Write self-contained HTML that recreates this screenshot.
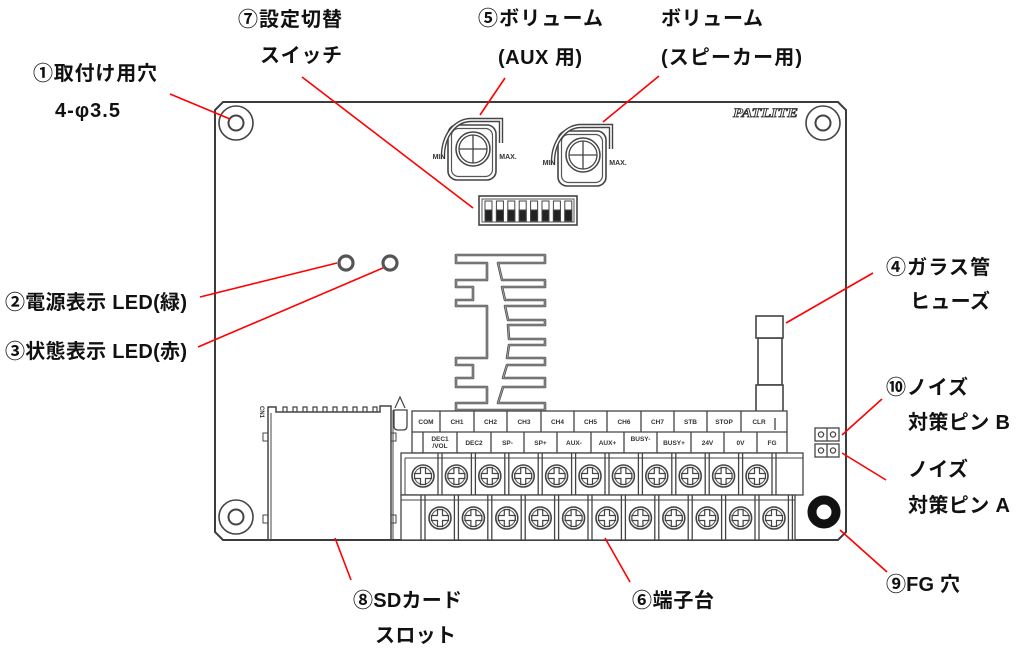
<!DOCTYPE html>
<html><head><meta charset="utf-8">
<style>
html,body{margin:0;padding:0;background:#fff;}
svg{display:block;}
.t{font-family:"Liberation Sans","Noto Sans CJK JP",sans-serif;font-weight:bold;font-size:20px;fill:#111;}
.s{font-family:"Liberation Sans",sans-serif;font-weight:bold;font-size:6.5px;fill:#333;text-anchor:middle;}
.k{font-family:"Liberation Sans",sans-serif;font-weight:bold;font-size:7px;fill:#333;text-anchor:middle;}
</style></head><body>
<svg width="1017" height="650" viewBox="0 0 1017 650" xmlns="http://www.w3.org/2000/svg">
<defs>
  <g id="sc">
    <circle r="11" fill="#fff" stroke="#444" stroke-width="1.6"/>
    <circle r="8.5" fill="none" stroke="#555" stroke-width="1"/>
    <path d="M-2.5,-8.5H2.5V-2.5H8.5V2.5H2.5V8.5H-2.5V2.5H-8.5V-2.5H-2.5Z" fill="none" stroke="#444" stroke-width="1.2"/>
  </g>
  <g id="knob">
    <rect x="-25" y="-24" width="48" height="55" rx="9" fill="#fff" stroke="#444" stroke-width="1.6"/>
    <rect x="-21.5" y="-20.5" width="41" height="48" rx="7" fill="none" stroke="#555" stroke-width="1.2"/>
    <path d="M-30,10 C-31,-14 -17,-29 -2,-29 L28,-29 L28,-6" fill="none" stroke="#444" stroke-width="4.4"/>
    <path d="M-30,10 C-31,-14 -17,-29 -2,-29 L28,-29 L28,-6" fill="none" stroke="#fff" stroke-width="1.6"/>
    <circle r="17" fill="none" stroke="#444" stroke-width="1.5"/>
    <circle r="14" fill="none" stroke="#444" stroke-width="1.3"/>
    <path d="M0,-14V14M-14,0H14" stroke="#444" stroke-width="1.3"/>
    <text x="-34" y="10" class="k">MIN</text>
    <text x="35" y="10" class="k">MAX.</text>
  </g>
</defs>

<!-- Board -->
<polygon points="223,102 838,102 846,110 846,532 838,540 223,540 215,532 215,110" fill="none" stroke="#3c3c3c" stroke-width="2"/>

<!-- Mounting holes -->
<g fill="none" stroke="#444">
  <circle cx="236" cy="123" r="17" stroke-width="1.6"/><circle cx="236" cy="123" r="7.5" stroke-width="2"/>
  <circle cx="823" cy="123" r="17" stroke-width="1.6"/><circle cx="823" cy="123" r="7.5" stroke-width="2"/>
  <circle cx="236" cy="517" r="17" stroke-width="1.6"/><circle cx="236" cy="517" r="7.5" stroke-width="2"/>
</g>
<!-- FG hole -->
<circle cx="824" cy="512" r="12" fill="none" stroke="#111" stroke-width="9"/>

<!-- PATLITE logo -->
<text x="733" y="117" font-family="Liberation Serif" font-style="italic" font-weight="bold" font-size="13" textLength="65" lengthAdjust="spacingAndGlyphs" fill="#fff" stroke="#333" stroke-width="0.8">PATLITE</text>

<!-- Knobs -->
<use href="#knob" transform="translate(473,149)"/>
<use href="#knob" transform="translate(583,155)"/>

<!-- DIP switch -->
<rect x="479" y="196" width="98" height="29" fill="none" stroke="#444" stroke-width="1.6"/>
<rect x="482" y="199" width="92" height="23" fill="none" stroke="#555" stroke-width="1"/>
<g stroke="#444" stroke-width="1">
  <rect x="485" y="201" width="7" height="20" fill="#fff"/><rect x="485" y="210" width="7" height="11" fill="#222"/>
  <rect x="496.4" y="201" width="7" height="20" fill="#fff"/><rect x="496.4" y="210" width="7" height="11" fill="#222"/>
  <rect x="507.8" y="201" width="7" height="20" fill="#fff"/><rect x="507.8" y="210" width="7" height="11" fill="#222"/>
  <rect x="519.2" y="201" width="7" height="20" fill="#fff"/><rect x="519.2" y="210" width="7" height="11" fill="#222"/>
  <rect x="530.6" y="201" width="7" height="20" fill="#fff"/><rect x="530.6" y="210" width="7" height="11" fill="#222"/>
  <rect x="542" y="201" width="7" height="20" fill="#fff"/><rect x="542" y="210" width="7" height="11" fill="#222"/>
  <rect x="553.4" y="201" width="7" height="20" fill="#fff"/><rect x="553.4" y="210" width="7" height="11" fill="#222"/>
  <rect x="564.8" y="201" width="7" height="20" fill="#fff"/><rect x="564.8" y="210" width="7" height="11" fill="#222"/>
</g>

<!-- LEDs -->
<circle cx="346" cy="263" r="7" fill="#fff" stroke="#555" stroke-width="3.2"/>
<circle cx="390" cy="263" r="7" fill="#fff" stroke="#555" stroke-width="3.2"/>

<!-- Heatsink -->
<path d="M456,255 H545 V263 H498 L502,280 H545 V287 H502 L505,300 H545 V306 H505 L508,320 H545 V325 H508 L509,339 H545 V345 H509 L507,358 H545 V365 H507 L503,378 H545 V387 H503 L498,403 H545 V410 H456 V403 H487 V387 H456 V378 H473 V365 H456 V358 H487 V306 H456 V300 H473 V287 H456 V280 H487 V263 H456 Z" fill="#fff" stroke="#555" stroke-width="2.6" stroke-linejoin="round"/>
<path d="M456,255 H545 V263 H498 L502,280 H545 V287 H502 L505,300 H545 V306 H505 L508,320 H545 V325 H508 L509,339 H545 V345 H509 L507,358 H545 V365 H507 L503,378 H545 V387 H503 L498,403 H545 V410 H456 V403 H487 V387 H456 V378 H473 V365 H456 V358 H487 V306 H456 V300 H473 V287 H456 V280 H487 V263 H456 Z" fill="none" stroke="#aaa" stroke-width="0.8" stroke-linejoin="round"/>

<!-- Fuse -->
<g fill="#fff" stroke="#444" stroke-width="1.6">
  <rect x="758" y="338" width="24" height="47"/>
  <rect x="756" y="316" width="27" height="22"/>
  <rect x="756" y="385" width="27" height="27"/>
</g>

<!-- Jumpers -->
<g fill="#fff" stroke="#444" stroke-width="1.3">
  <rect x="815" y="428" width="24" height="13"/><line x1="827" y1="428" x2="827" y2="441"/>
  <circle cx="821" cy="434.5" r="2.6"/><circle cx="833" cy="434.5" r="2.6"/>
  <rect x="815" y="444" width="24" height="13"/><line x1="827" y1="444" x2="827" y2="457"/>
  <circle cx="821" cy="450.5" r="2.6"/><circle cx="833" cy="450.5" r="2.6"/>
</g>

<!-- SD slot -->
<g fill="none" stroke="#444" stroke-width="1.5">
  <path d="M268,540 V407 H276 V412 H380 V406 H391 V540"/>
  <line x1="271" y1="413" x2="271" y2="540" stroke-width="1"/>
  <line x1="393" y1="410" x2="393" y2="540" stroke-width="1"/>
  <path d="M283,412V407H287V412 M293,412V407H297V412 M303,412V407H307V412 M313,412V407H317V412 M323,412V407H327V412 M333,412V407H337V412 M343,412V407H347V412 M353,412V407H357V412 M363,412V407H367V412 M373,412V407H377V412" stroke-width="1.2"/>
  <rect x="263" y="433" width="5" height="8" stroke-width="1"/>
  <rect x="263" y="515" width="5" height="8" stroke-width="1"/>
  <rect x="391" y="433" width="5" height="8" stroke-width="1"/>
  <rect x="391" y="515" width="5" height="8" stroke-width="1"/>
  <path d="M394,410 H407 V426 Q407,430 403,430 H398 Q394,430 394,426 Z" stroke-width="1.3"/>
  <path d="M395,408 L400,397 L405,408" stroke-width="1.2"/>
</g>
<text transform="translate(260,406) rotate(90)" font-family="Liberation Sans" font-weight="bold" font-size="6" fill="#333">CN1</text>

<!-- Label table -->
<g fill="none" stroke="#444" stroke-width="1.3">
  <rect x="412" y="411" width="375" height="42" fill="#fff"/>
  <line x1="412" y1="432" x2="787" y2="432"/>
  <path d="M440,411V432 M474,411V432 M507,411V432 M541,411V432 M574,411V432 M607,411V432 M641,411V432 M674,411V432 M707,411V432 M741,411V432 M775,418V430"/>
  <path d="M423,432V453 M457,432V453 M491,432V453 M524,432V453 M557,432V453 M591,432V453 M624,432V453 M657,432V453 M691,432V453 M724,432V453 M757,432V453"/>
</g>
<g class="s">
  <text x="426" y="424" class="s">COM</text>
  <text x="457" y="424" class="s">CH1</text>
  <text x="490.5" y="424" class="s">CH2</text>
  <text x="524" y="424" class="s">CH3</text>
  <text x="557.5" y="424" class="s">CH4</text>
  <text x="590.5" y="424" class="s">CH5</text>
  <text x="624" y="424" class="s">CH6</text>
  <text x="657.5" y="424" class="s">CH7</text>
  <text x="690.5" y="424" class="s">STB</text>
  <text x="724" y="424" class="s">STOP</text>
  <text x="759" y="424" class="s">CLR</text>
  <text x="440" y="441" class="s">DEC1</text>
  <text x="440" y="448" class="s">/VOL</text>
  <text x="474" y="445" class="s">DEC2</text>
  <text x="507.5" y="445" class="s">SP-</text>
  <text x="540.5" y="445" class="s">SP+</text>
  <text x="574" y="445" class="s">AUX-</text>
  <text x="607.5" y="445" class="s">AUX+</text>
  <text x="640.5" y="441" class="s">BUSY-</text>
  <text x="674" y="445" class="s">BUSY+</text>
  <text x="707.5" y="445" class="s">24V</text>
  <text x="740.5" y="445" class="s">0V</text>
  <text x="772" y="445" class="s">FG</text>
</g>

<!-- Upper terminal block -->
<g fill="none" stroke="#444" stroke-width="1.3">
  <rect x="401" y="453" width="402" height="42" fill="#fff"/>
  <line x1="405" y1="458" x2="803" y2="458" stroke-width="1"/>
  <line x1="405" y1="458" x2="405" y2="495" stroke-width="1"/>
  <path d="M438,453V497 M442,453V497 M471.4,453V497 M475.4,453V497 M504.8,453V497 M508.8,453V497 M538.2,453V497 M542.2,453V497 M571.6,453V497 M575.6,453V497 M605,453V497 M609,453V497 M638.4,453V497 M642.4,453V497 M671.8,453V497 M675.8,453V497 M705.2,453V497 M709.2,453V497 M738.6,453V497 M742.6,453V497 M772,453V497 M776,453V497"/>
</g>
<g>
  <use href="#sc" x="423" y="476"/><use href="#sc" x="456.4" y="476"/><use href="#sc" x="489.8" y="476"/>
  <use href="#sc" x="523.2" y="476"/><use href="#sc" x="556.6" y="476"/><use href="#sc" x="590" y="476"/>
  <use href="#sc" x="623.4" y="476"/><use href="#sc" x="656.8" y="476"/><use href="#sc" x="690.2" y="476"/>
  <use href="#sc" x="723.6" y="476"/><use href="#sc" x="757" y="476"/>
</g>

<!-- Lower terminal block -->
<g fill="none" stroke="#444" stroke-width="1.3">
  <rect x="401" y="495" width="394" height="45" fill="#fff"/>
  <line x1="401" y1="500" x2="795" y2="500" stroke-width="1"/>
  <path d="M421,495V540 M425,495V540 M454.4,495V540 M458.4,495V540 M487.8,495V540 M491.8,495V540 M521.2,495V540 M525.2,495V540 M554.6,495V540 M558.6,495V540 M588,495V540 M592,495V540 M621.4,495V540 M625.4,495V540 M654.8,495V540 M658.8,495V540 M688.2,495V540 M692.2,495V540 M721.6,495V540 M725.6,495V540 M755,495V540 M759,495V540 M788.4,495V540 M792.4,495V540"/>
</g>
<g>
  <use href="#sc" x="440" y="518"/><use href="#sc" x="473.4" y="518"/><use href="#sc" x="506.8" y="518"/>
  <use href="#sc" x="540.2" y="518"/><use href="#sc" x="573.6" y="518"/><use href="#sc" x="607" y="518"/>
  <use href="#sc" x="640.4" y="518"/><use href="#sc" x="673.8" y="518"/><use href="#sc" x="707.2" y="518"/>
  <use href="#sc" x="740.6" y="518"/><use href="#sc" x="774" y="518"/>
</g>

<!-- Red leader lines -->
<g stroke="#ff0000" stroke-width="1.6" fill="none">
  <line x1="170" y1="94" x2="230" y2="119"/>
  <line x1="302" y1="77" x2="473" y2="208"/>
  <line x1="505" y1="78" x2="480" y2="115"/>
  <line x1="659" y1="76" x2="603" y2="122"/>
  <line x1="200" y1="297" x2="337" y2="263"/>
  <line x1="198" y1="347" x2="383" y2="268"/>
  <line x1="873" y1="273" x2="786" y2="323"/>
  <line x1="882" y1="399" x2="842" y2="435"/>
  <line x1="842" y1="453" x2="886" y2="480"/>
  <line x1="840" y1="530" x2="887" y2="572"/>
  <line x1="335" y1="538" x2="351" y2="580"/>
  <line x1="605" y1="538" x2="630" y2="582"/>
</g>

<!-- Labels -->
<g class="t">
  <text x="33" y="80" textLength="124" lengthAdjust="spacing">①取付け用穴</text>
  <text x="55" y="117" textLength="65" lengthAdjust="spacing">4-φ3.5</text>
  <text x="238" y="26" textLength="104" lengthAdjust="spacing">⑦設定切替</text>
  <text x="260" y="62" textLength="82" lengthAdjust="spacing">スイッチ</text>
  <text x="478" y="25" textLength="125" lengthAdjust="spacing">⑤ボリューム</text>
  <text x="498" y="64" textLength="84" lengthAdjust="spacing">(AUX 用)</text>
  <text x="661" y="25" textLength="102" lengthAdjust="spacing">ボリューム</text>
  <text x="661" y="64" textLength="141" lengthAdjust="spacing">(スピーカー用)</text>
  <text x="5" y="309" textLength="182" lengthAdjust="spacing">②電源表示 LED(緑)</text>
  <text x="5" y="358" textLength="182" lengthAdjust="spacing">③状態表示 LED(赤)</text>
  <text x="886" y="274" textLength="104" lengthAdjust="spacing">④ガラス管</text>
  <text x="910" y="308" textLength="80" lengthAdjust="spacing">ヒューズ</text>
  <text x="886" y="394" textLength="82" lengthAdjust="spacing">⑩ノイズ</text>
  <text x="908" y="429" textLength="102" lengthAdjust="spacing">対策ピン B</text>
  <text x="908" y="476" textLength="60" lengthAdjust="spacing">ノイズ</text>
  <text x="908" y="512" textLength="102" lengthAdjust="spacing">対策ピン A</text>
  <text x="353" y="607" textLength="109" lengthAdjust="spacing">⑧SDカード</text>
  <text x="375" y="642" textLength="81" lengthAdjust="spacing">スロット</text>
  <text x="632" y="607" textLength="82" lengthAdjust="spacing">⑥端子台</text>
  <text x="886" y="591" textLength="74" lengthAdjust="spacing">⑨FG 穴</text>
</g>
</svg>
</body></html>
